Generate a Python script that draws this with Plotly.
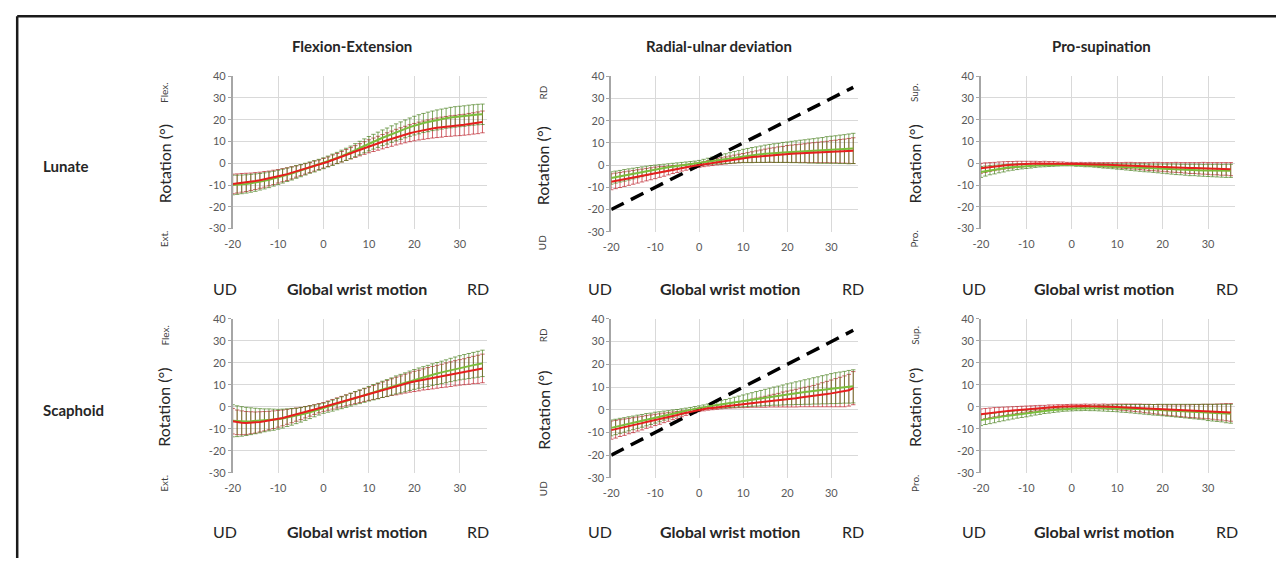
import plotly.graph_objects as go

# page has an 8px body margin: figure is 16px smaller than the window
OX, OY = 8, 8
W, H = 1284 - 2 * OX, 566 - 2 * OY

# ---------------- data ----------------
x_deg = list(range(-20, 36))
diag_x = [-20, 35]
diag_y = [-20, 35]

col_titles = ["Flexion-Extension", "Radial-ulnar deviation", "Pro-supination"]
row_titles = ["Lunate", "Scaphoid"]
pos_labels = ["Flex.", "RD", "Sup."]
neg_labels = ["Ext.", "UD", "Pro."]
x_ticks = [-20, -10, 0, 10, 20, 30]
x_ticktext = ["-20", "-10", "0", "10", "20", "30"]
y_ticks = [-30, -20, -10, 0, 10, 20, 30, 40]
y_ticktext = ["-30", "-20", "-10", "0", "10", "20", "30", "40"]

# Lunate – flexion-extension
rm1 = [-9.5,-9.3,-9.0,-8.8,-8.5,-8.2,-7.8,-7.4,-7.0,-6.5,-6.0,-5.5,-5.0,-4.4,-3.8,-3.2,-2.6,-2.0,-1.3,-0.7,0.0,
       0.7,1.5,2.2,3.0,3.8,4.6,5.4,6.2,7.0,7.8,8.5,9.2,9.9,10.6,11.3,12.0,12.6,13.2,13.8,14.3,14.8,15.2,15.6,16.0,16.3,16.6,16.9,17.1,17.3,17.5,17.7,18.0,18.3,18.6,19.0]
rs1 = [4.5,4.4,4.3,4.2,4.0,3.9,3.7,3.6,3.4,3.3,3.1,3.0,2.9,2.8,2.6,2.5,2.4,2.3,2.3,2.2,2.2,
       2.2,2.3,2.3,2.4,2.5,2.6,2.7,2.8,2.9,3.0,3.1,3.2,3.3,3.4,3.5,3.6,3.7,3.8,3.9,4.0,4.1,4.2,4.3,4.4,4.5,4.6,4.6,4.7,4.7,4.8,4.8,4.9,4.9,5.0,5.0]
gm1 = [-10.0,-9.9,-9.7,-9.5,-9.2,-8.9,-8.5,-8.1,-7.6,-7.1,-6.5,-5.9,-5.3,-4.7,-4.0,-3.4,-2.7,-2.0,-1.4,-0.7,0.0,
       0.8,1.6,2.4,3.3,4.1,5.0,6.0,7.0,8.0,9.0,9.9,10.8,11.7,12.5,13.4,14.2,15.0,15.8,16.6,17.3,17.9,18.5,19.0,19.5,19.9,20.3,20.7,21.0,21.3,21.5,21.7,22.0,22.2,22.4,22.5]
gs1 = [4.5,4.4,4.3,4.2,4.1,4.0,3.8,3.7,3.6,3.4,3.3,3.2,3.1,3.0,2.9,2.8,2.7,2.6,2.6,2.5,2.5,
       2.5,2.6,2.6,2.7,2.8,2.9,3.0,3.1,3.2,3.3,3.4,3.5,3.6,3.7,3.8,3.9,4.0,4.1,4.2,4.3,4.4,4.4,4.5,4.5,4.6,4.6,4.6,4.7,4.7,4.7,4.7,4.7,4.7,4.7,4.7]

# Lunate – radial-ulnar deviation
rm2 = [-7.5,-7.1,-6.7,-6.3,-5.9,-5.5,-5.1,-4.7,-4.3,-3.9,-3.5,-3.1,-2.8,-2.4,-2.0,-1.7,-1.3,-1.0,-0.6,-0.3,0.0,
       0.4,0.8,1.1,1.5,1.8,2.1,2.4,2.7,3.0,3.2,3.4,3.6,3.8,4.0,4.2,4.4,4.5,4.7,4.8,5.0,5.1,5.2,5.3,5.4,5.5,5.6,5.7,5.8,5.9,6.0,6.1,6.2,6.3,6.4,6.5]
rs2 = [3.6,3.5,3.4,3.3,3.2,3.1,3.0,2.9,2.8,2.7,2.6,2.4,2.2,2.0,1.8,1.6,1.4,1.3,1.2,1.1,1.0,
       1.1,1.2,1.3,1.4,1.5,1.6,1.7,1.8,1.9,2.0,2.2,2.4,2.6,2.8,3.0,3.2,3.3,3.5,3.6,3.8,3.9,4.0,4.1,4.2,4.4,4.5,4.6,4.7,4.8,5.0,5.1,5.3,5.4,5.6,5.8]
gm2 = [-5.8,-5.4,-5.0,-4.6,-4.2,-3.8,-3.4,-3.0,-2.6,-2.2,-1.9,-1.6,-1.3,-1.0,-0.7,-0.4,-0.1,0.2,0.5,0.8,1.1,
       1.4,1.7,2.0,2.3,2.6,2.9,3.2,3.5,3.8,4.1,4.3,4.5,4.7,4.9,5.1,5.3,5.4,5.5,5.7,5.8,5.9,6.0,6.1,6.2,6.3,6.4,6.5,6.6,6.8,6.9,7.0,7.1,7.2,7.3,7.5]
gs2 = [2.8,2.7,2.6,2.6,2.5,2.4,2.3,2.2,2.1,2.0,1.9,1.8,1.7,1.6,1.5,1.4,1.3,1.2,1.1,1.0,1.0,
       1.2,1.4,1.6,1.8,2.0,2.2,2.4,2.6,2.8,3.0,3.2,3.4,3.5,3.7,3.9,4.0,4.2,4.3,4.5,4.6,4.8,4.9,5.1,5.2,5.4,5.5,5.7,5.8,6.0,6.1,6.2,6.4,6.5,6.7,6.8]

# Lunate – pro-supination
rm3 = [-2.3,-2.0,-1.7,-1.5,-1.2,-1.0,-0.8,-0.7,-0.5,-0.4,-0.3,-0.2,-0.1,-0.1,0.0,0.0,0.0,-0.1,-0.1,-0.2,-0.2,
       -0.3,-0.3,-0.4,-0.4,-0.5,-0.6,-0.7,-0.7,-0.8,-0.9,-1.0,-1.0,-1.1,-1.2,-1.3,-1.4,-1.5,-1.5,-1.6,-1.7,-1.8,-1.9,-1.9,-2.0,-2.1,-2.2,-2.2,-2.3,-2.3,-2.4,-2.5,-2.5,-2.6,-2.6,-2.7]
rs3 = [2.3,2.2,2.0,1.9,1.8,1.7,1.6,1.5,1.4,1.3,1.2,1.1,1.0,0.9,0.9,0.8,0.8,0.7,0.7,0.6,0.6,
       0.6,0.7,0.7,0.8,0.8,0.9,1.0,1.0,1.1,1.2,1.3,1.4,1.5,1.5,1.6,1.7,1.8,1.9,2.0,2.0,2.1,2.2,2.3,2.3,2.4,2.5,2.5,2.6,2.7,2.7,2.8,2.8,2.9,2.9,3.0]
gm3 = [-4.0,-3.6,-3.2,-2.9,-2.6,-2.3,-2.0,-1.8,-1.6,-1.4,-1.3,-1.2,-1.0,-0.9,-0.9,-0.8,-0.8,-0.7,-0.7,-0.7,-0.7,
       -0.8,-0.8,-0.9,-0.9,-1.0,-1.1,-1.2,-1.3,-1.4,-1.5,-1.6,-1.7,-1.8,-1.9,-2.0,-2.1,-2.2,-2.3,-2.4,-2.5,-2.6,-2.7,-2.8,-2.9,-3.0,-3.1,-3.1,-3.2,-3.3,-3.3,-3.4,-3.4,-3.5,-3.5,-3.5]
gs3 = [2.5,2.3,2.1,2.0,1.8,1.7,1.5,1.4,1.3,1.2,1.1,1.0,0.9,0.8,0.7,0.7,0.6,0.6,0.5,0.5,0.5,
       0.6,0.6,0.7,0.7,0.8,0.9,1.0,1.0,1.1,1.2,1.3,1.4,1.5,1.6,1.7,1.8,1.8,1.9,2.0,2.1,2.2,2.3,2.4,2.4,2.5,2.6,2.6,2.7,2.7,2.8,2.8,2.9,2.9,3.0,3.0]

# Scaphoid – flexion-extension
rm4 = [-6.5,-7.0,-7.2,-7.3,-7.2,-7.1,-6.8,-6.5,-6.2,-5.8,-5.4,-5.0,-4.5,-4.0,-3.5,-3.0,-2.4,-1.8,-1.2,-0.6,0.0,
       0.6,1.2,1.8,2.4,3.0,3.6,4.2,4.8,5.4,6.0,6.6,7.2,7.8,8.4,9.0,9.5,10.0,10.6,11.1,11.6,12.0,12.5,12.9,13.3,13.7,14.1,14.5,14.9,15.3,15.7,16.0,16.4,16.8,17.1,17.5]
rs4 = [5.8,5.6,5.4,5.2,5.0,4.8,4.6,4.4,4.2,4.0,3.8,3.6,3.4,3.2,3.0,2.8,2.6,2.4,2.2,2.1,2.0,
       2.1,2.2,2.3,2.4,2.5,2.6,2.7,2.8,2.9,3.0,3.2,3.4,3.5,3.7,3.8,4.0,4.1,4.3,4.4,4.6,4.7,4.8,5.0,5.1,5.2,5.3,5.5,5.6,5.7,5.8,5.9,6.1,6.2,6.4,6.5]
gm4 = [-6.3,-6.5,-6.6,-6.6,-6.5,-6.4,-6.3,-6.1,-5.9,-5.8,-5.6,-5.3,-4.9,-4.5,-4.1,-3.6,-3.0,-2.4,-1.8,-1.2,-0.6,
       0.0,0.6,1.3,1.9,2.6,3.3,4.0,4.6,5.3,6.0,6.7,7.3,8.0,8.6,9.3,10.0,10.6,11.2,11.9,12.5,13.1,13.6,14.1,14.7,15.2,15.7,16.2,16.8,17.3,17.8,18.2,18.6,19.0,19.4,19.8]
gs4 = [7.3,7.0,6.7,6.4,6.1,5.8,5.5,5.2,5.0,4.8,4.5,4.3,4.0,3.8,3.5,3.3,3.1,2.9,2.7,2.5,2.3,
       2.4,2.5,2.6,2.7,2.8,2.9,3.0,3.1,3.2,3.3,3.5,3.6,3.7,3.8,3.9,4.1,4.2,4.3,4.4,4.5,4.6,4.7,4.8,4.9,5.0,5.1,5.2,5.3,5.4,5.5,5.6,5.7,5.8,5.9,6.0]

# Scaphoid – radial-ulnar deviation
rm5 = [-9.0,-8.6,-8.1,-7.7,-7.2,-6.8,-6.3,-5.9,-5.4,-5.0,-4.5,-4.1,-3.6,-3.2,-2.7,-2.3,-1.8,-1.4,-0.9,-0.5,0.0,
       0.3,0.6,0.8,1.1,1.3,1.6,1.8,2.0,2.2,2.4,2.6,2.9,3.1,3.3,3.5,3.8,4.0,4.2,4.5,4.7,4.9,5.1,5.4,5.6,5.8,6.0,6.3,6.6,6.9,7.2,7.5,7.8,8.1,8.6,9.5]
rs5 = [4.0,3.9,3.7,3.6,3.4,3.3,3.1,3.0,2.8,2.7,2.5,2.3,2.1,1.9,1.7,1.5,1.3,1.1,1.0,0.9,0.8,
       0.8,0.8,0.8,0.9,0.9,1.0,1.1,1.2,1.3,1.5,1.6,1.8,2.0,2.2,2.4,2.6,2.8,3.0,3.3,3.5,3.7,3.9,4.1,4.3,4.5,4.7,5.0,5.3,5.6,5.9,6.2,6.5,6.8,7.0,7.3]
gm5 = [-8.0,-7.6,-7.1,-6.7,-6.2,-5.8,-5.3,-4.9,-4.4,-4.0,-3.5,-3.1,-2.6,-2.2,-1.7,-1.3,-0.9,-0.4,0.0,0.5,0.9,
       1.2,1.5,1.8,2.1,2.4,2.7,3.0,3.3,3.6,3.9,4.2,4.5,4.8,5.1,5.4,5.7,6.0,6.2,6.5,6.8,7.0,7.3,7.5,7.8,8.0,8.3,8.5,8.8,9.0,9.3,9.5,9.7,9.9,10.1,10.3]
gs5 = [3.5,3.4,3.3,3.2,3.1,3.0,2.9,2.8,2.7,2.5,2.4,2.2,2.0,1.8,1.6,1.4,1.3,1.1,1.0,0.9,0.8,
       0.9,1.0,1.2,1.4,1.6,1.8,2.0,2.2,2.4,2.6,2.8,3.0,3.2,3.4,3.6,3.8,4.0,4.2,4.4,4.6,4.8,5.0,5.2,5.4,5.6,5.8,6.0,6.2,6.4,6.6,6.8,6.9,7.0,7.2,7.3]

# Scaphoid – pro-supination
rm6 = [-3.3,-3.0,-2.7,-2.4,-2.2,-2.0,-1.8,-1.6,-1.4,-1.2,-1.0,-0.8,-0.6,-0.4,-0.3,-0.1,0.0,0.1,0.2,0.3,0.4,
       0.4,0.4,0.4,0.3,0.3,0.2,0.2,0.1,0.1,0.0,-0.1,-0.2,-0.3,-0.4,-0.5,-0.7,-0.8,-1.0,-1.1,-1.3,-1.4,-1.5,-1.6,-1.7,-1.8,-1.9,-1.9,-2.0,-2.0,-2.1,-2.2,-2.3,-2.3,-2.4,-2.5]
rs6 = [2.4,2.3,2.2,2.1,2.0,1.9,1.8,1.7,1.6,1.5,1.4,1.3,1.2,1.1,1.0,1.0,0.9,0.9,0.8,0.8,0.8,
       0.8,0.8,0.9,0.9,1.0,1.0,1.1,1.1,1.2,1.3,1.4,1.5,1.6,1.7,1.8,1.9,2.0,2.1,2.2,2.3,2.4,2.5,2.6,2.7,2.8,2.9,3.0,3.1,3.2,3.3,3.4,3.6,3.7,3.9,4.0]
gm6 = [-6.0,-5.6,-5.3,-5.0,-4.6,-4.3,-4.0,-3.7,-3.4,-3.2,-3.0,-2.7,-2.4,-2.1,-1.8,-1.6,-1.4,-1.2,-1.0,-0.9,-0.8,
       -0.7,-0.7,-0.6,-0.6,-0.6,-0.6,-0.6,-0.6,-0.6,-0.6,-0.7,-0.7,-0.8,-0.9,-1.0,-1.1,-1.2,-1.3,-1.3,-1.4,-1.5,-1.6,-1.7,-1.8,-1.9,-2.0,-2.1,-2.2,-2.3,-2.5,-2.6,-2.7,-2.8,-3.0,-3.1]
gs6 = [2.5,2.4,2.3,2.2,2.1,2.0,1.9,1.8,1.7,1.6,1.5,1.4,1.3,1.3,1.2,1.2,1.1,1.1,1.0,1.0,1.0,
       1.0,1.0,1.0,1.1,1.1,1.2,1.3,1.4,1.5,1.6,1.7,1.8,1.9,2.0,2.1,2.2,2.3,2.4,2.5,2.6,2.7,2.8,2.9,3.0,3.1,3.2,3.3,3.4,3.5,3.7,3.8,3.9,4.0,4.2,4.3]

for arr in (rm1, rs1, gm1, gs1, rm2, rs2, gm2, gs2, rm3, rs3, gm3, gs3,
            rm4, rs4, gm4, gs4, rm5, rs5, gm5, gs5, rm6, rs6, gm6, gs6):
    assert len(arr) == len(x_deg), len(arr)

# ---------------- layout geometry (window pixels) ----------------
col_px = [(226, 482), (607, 855), (979, 1235)]
row_px = [[(70.7, 226.7), (70.7, 230.0), (70.7, 226.7)],
          [(319.3, 477.0), (319.3, 482.0), (319.3, 477.0)]]
label_x = [157, 538, 912]

def px(xp):
    return (xp - OX) / W

def py(yp):
    return 1 - (yp - OY) / H

RED = "rgb(230,30,30)"
GREEN = "rgb(122,190,60)"
RED_ERR = "rgba(185,25,35,0.68)"
GREEN_ERR = "rgba(70,125,25,0.68)"
FONT = "Lato"

panels = [
    (0, 0, rm1, rs1, gm1, gs1), (0, 1, rm2, rs2, gm2, gs2), (0, 2, rm3, rs3, gm3, gs3),
    (1, 0, rm4, rs4, gm4, gs4), (1, 1, rm5, rs5, gm5, gs5), (1, 2, rm6, rs6, gm6, gs6),
]

fig = go.Figure()
layout = dict(
    width=W, height=H, margin=dict(l=0, r=0, t=0, b=0),
    paper_bgcolor="white", plot_bgcolor="white", showlegend=False,
    font=dict(family=FONT, color="#595959", size=11),
)
annotations = []

for i, (r, c, rm, rs, gm, gs) in enumerate(panels, start=1):
    xa = "x" if i == 1 else f"x{i}"
    ya = "y" if i == 1 else f"y{i}"
    for mean, sd, col in ((rm, rs, RED_ERR), (gm, gs, GREEN_ERR)):
        fig.add_trace(go.Scatter(
            x=x_deg, y=mean, mode="markers", xaxis=xa, yaxis=ya,
            marker=dict(size=1, color="rgba(0,0,0,0)"),
            error_y=dict(type="data", array=sd, visible=True, color=col,
                         thickness=1, width=2.2),
            hoverinfo="skip"))
    if c == 1:
        fig.add_trace(go.Scatter(
            x=diag_x, y=diag_y, mode="lines", xaxis=xa, yaxis=ya,
            line=dict(color="black", width=3.5, dash="14px,8px")))
    fig.add_trace(go.Scatter(x=x_deg, y=gm, mode="lines", xaxis=xa, yaxis=ya,
                             line=dict(color=GREEN, width=2)))
    fig.add_trace(go.Scatter(x=x_deg, y=rm, mode="lines", xaxis=xa, yaxis=ya,
                             line=dict(color=RED, width=2)))

    x0, x1 = col_px[c]
    ytop, ybot = row_px[r][c]
    kx = "xaxis" if i == 1 else f"xaxis{i}"
    ky = "yaxis" if i == 1 else f"yaxis{i}"
    layout[kx] = dict(domain=[px(x0), px(x1)], anchor=ya, range=[-20, 36],
                      tickvals=x_ticks, ticktext=x_ticktext, showgrid=True,
                      gridcolor="#d9d9d9", gridwidth=1, zeroline=False,
                      showline=False, ticks="", ticklabelstandoff=7,
                      tickfont=dict(size=11, color="#595959"))
    layout[ky] = dict(domain=[py(ybot), py(ytop)], anchor=xa, range=[-30, 40],
                      tickvals=y_ticks, ticktext=y_ticktext, showgrid=True,
                      gridcolor="#d9d9d9", gridwidth=1, zeroline=False,
                      showline=True, linecolor="#a6a6a6", linewidth=1.5,
                      ticks="outside", ticklen=3, tickcolor="#a6a6a6",
                      tickfont=dict(size=11, color="#595959"))

    lx = label_x[c]
    annotations.append(dict(text="Rotation (°)", x=px(lx), y=py((ytop + ybot) / 2 + 12),
                            textangle=-90, font=dict(size=16, color="#262626")))
    annotations.append(dict(text=pos_labels[c], x=px(lx), y=py(ytop + 17),
                            textangle=-90, font=dict(size=10, color="#404040")))
    annotations.append(dict(text=neg_labels[c], x=px(lx), y=py(ybot + 11),
                            textangle=-90, font=dict(size=10, color="#404040")))

for c, t in enumerate(col_titles):
    annotations.append(dict(text=f"<b>{t}</b>", x=px([346, 715, 1100][c]), y=py(40),
                            font=dict(size=15, color="#262626")))

ud_x = [218, 596, 972]
gw_x = [351, 727, 1103]
rd_x = [473, 850, 1227]
for r, yy in enumerate([288, 537]):
    for c in range(3):
        annotations.append(dict(text="UD", x=px(ud_x[c]), y=py(yy), font=dict(size=16, color="#262626")))
        annotations.append(dict(text="<b>Global wrist motion</b>", x=px(gw_x[c]), y=py(yy),
                                font=dict(size=16, color="#262626")))
        annotations.append(dict(text="RD", x=px(rd_x[c]), y=py(yy), font=dict(size=16, color="#262626")))

for r, (t, yy) in enumerate(zip(row_titles, [163, 413])):
    annotations.append(dict(text=f"<b>{t}</b>", x=px(33), y=py(yy), xanchor="left",
                            font=dict(size=15, color="#262626")))

for a in annotations:
    a.setdefault("xref", "paper")
    a.setdefault("yref", "paper")
    a.setdefault("showarrow", False)
    a.setdefault("xanchor", "center")
    a.setdefault("yanchor", "middle")
layout["annotations"] = annotations

layout["shapes"] = [
    dict(type="line", xref="paper", yref="paper", x0=px(9.2), x1=px(9.2), y0=py(9.2), y1=py(580),
         line=dict(color="#1a1a1a", width=2.5)),
    dict(type="line", xref="paper", yref="paper", x0=px(9.2), x1=px(1300), y0=py(9.2), y1=py(9.2),
         line=dict(color="#1a1a1a", width=2.5)),
]

fig.update_layout(**layout)
fig.write_html("out.html", config={"displayModeBar": False})
